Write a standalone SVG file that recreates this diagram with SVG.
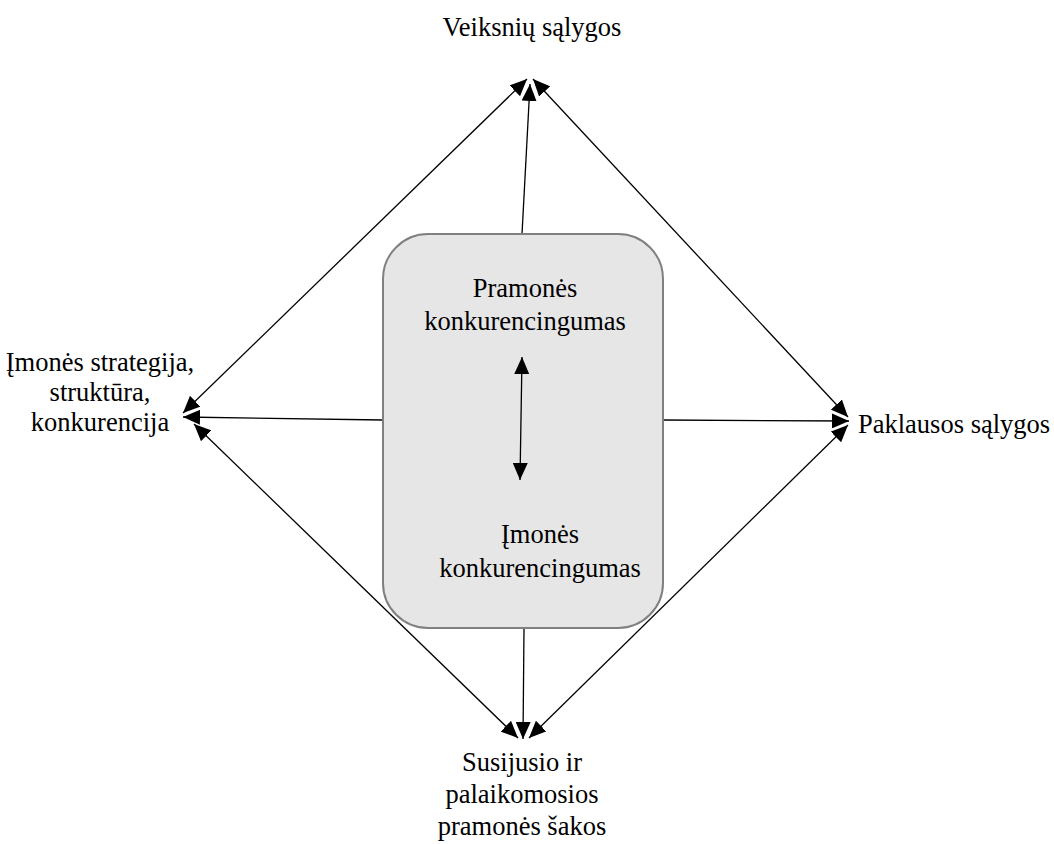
<svg xmlns="http://www.w3.org/2000/svg" width="1054" height="844" viewBox="0 0 1054 844">
  <defs>
    <marker id="head" viewBox="0 0 17 15" refX="17" refY="7.5" markerWidth="17" markerHeight="15" markerUnits="userSpaceOnUse" orient="auto-start-reverse">
      <path d="M0,0 L17,7.5 L0,15 Z" fill="#000"/>
    </marker>
  </defs>
  <style>
    .lbl { font-family: "Liberation Serif", "Times New Roman", serif; font-size: 26.5px; fill: #000; }
    .c { text-anchor: middle; }
    .ln { stroke: #000; stroke-width: 1.3; fill: none; }
    .one { marker-end: url(#head); }
    .two { marker-start: url(#head); marker-end: url(#head); }
  </style>

  <!-- connectors -->
  <g id="connectors">
    <!-- diamond edges, arrowheads at both ends -->
    <line class="ln two" x1="183" y1="413" x2="527" y2="79"/>
    <line class="ln two" x1="533" y1="79" x2="848" y2="417"/>
    <line class="ln two" x1="194" y1="424" x2="518" y2="738"/>
    <line class="ln two" x1="848" y1="425" x2="529" y2="738"/>
    <!-- spokes from the central block -->
    <line class="ln one" x1="522" y1="234" x2="530" y2="84"/>
    <line class="ln one" x1="383" y1="420" x2="183" y2="417"/>
    <line class="ln one" x1="663" y1="420" x2="849" y2="421"/>
    <line class="ln one" x1="524" y1="628" x2="523" y2="739"/>
  </g>

  <!-- central block -->
  <g id="center">
    <rect x="383" y="234" width="280" height="394" rx="45" ry="45" fill="#e6e6e6" stroke="#808080" stroke-width="2"/>
    <text class="lbl c" x="525" y="297">Pramonės</text>
    <text class="lbl c" x="525" y="330">konkurencingumas</text>
    <line class="ln two" x1="522" y1="357" x2="520" y2="480"/>
    <text class="lbl c" x="540" y="543">Įmonės</text>
    <text class="lbl c" x="540" y="577">konkurencingumas</text>
  </g>

  <g id="factor">
    <text class="lbl c" x="532" y="36">Veiksnių sąlygos</text>
  </g>

  <g id="strategy">
    <text class="lbl c" x="100" y="371">Įmonės strategija,</text>
    <text class="lbl c" x="100" y="401">struktūra,</text>
    <text class="lbl c" x="100" y="431">konkurencija</text>
  </g>

  <g id="demand">
    <text class="lbl" x="858" y="433">Paklausos sąlygos</text>
  </g>

  <g id="related">
    <text class="lbl c" x="522" y="771">Susijusio ir</text>
    <text class="lbl c" x="522" y="803">palaikomosios</text>
    <text class="lbl c" x="522" y="835">pramonės šakos</text>
  </g>
</svg>
